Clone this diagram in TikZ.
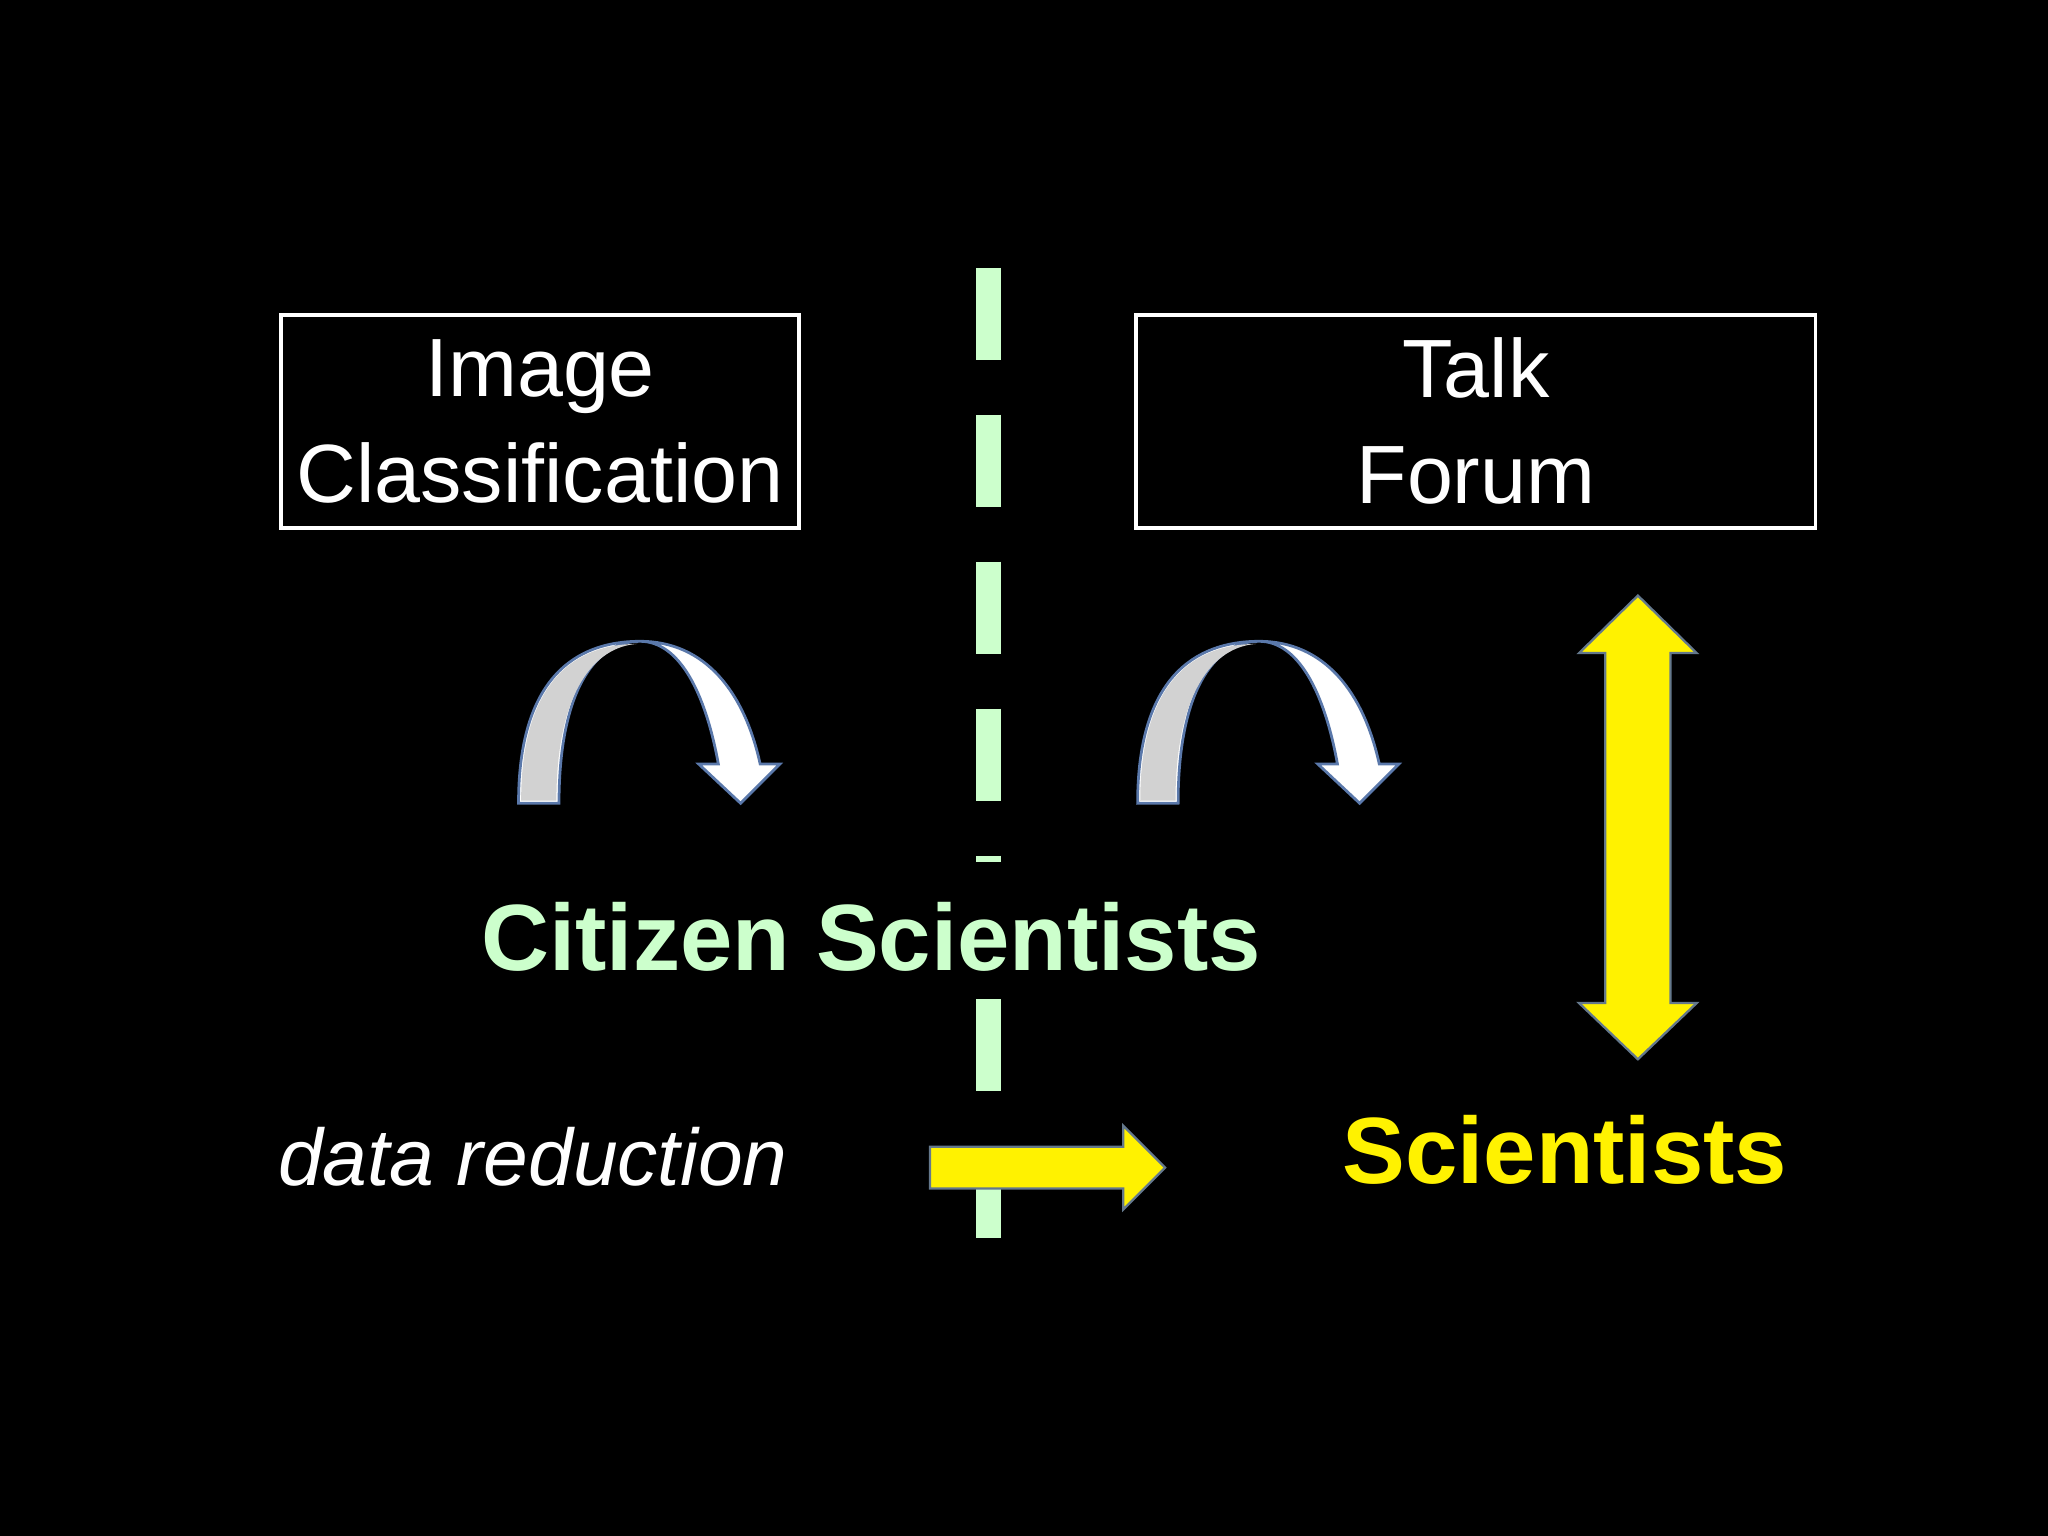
\documentclass[tikz,border=0pt]{standalone}
\usepackage{fontspec}
\setmainfont{Liberation Sans}
\begin{document}
\begin{tikzpicture}[x=0.01cm,y=-0.01cm,
  box/.style={draw=white,line width=0.8pt,text=white,align=center,font=\fontsize{18}{23}\selectfont},
  curv/.style={draw={rgb,255:red,90;green,120;blue,170},line width=0.6pt,fill=white},
  yarrow/.style={draw={rgb,255:red,100;green,120;blue,140},line width=0.5pt,fill=yellow}]
\definecolor{lg}{RGB}{204,255,204}
\fill[black] (0,0) rectangle (1568,1176);
\useasboundingbox (0,0) rectangle (1568,1176);
\node[box,minimum width=395*0.01cm,minimum height=163*0.01cm] (ic) at (413.5,322.5) {Image\\Classification};
\node[box,minimum width=520*0.01cm,minimum height=163*0.01cm] (tf) at (1130,322.5) {Talk\\Forum};
\coordinate (d1) at (757,205); \coordinate (d2) at (757,660);
\coordinate (d3) at (757,765); \coordinate (d4) at (757,990);
\draw[lg,line width=5.5pt,dash pattern=on 20pt off 12pt] (d1) -- (d2);
\draw[lg,line width=5.5pt,dash pattern=on 20pt off 12pt] (d3) -- (d4);
\node[text=lg,font=\bfseries\fontsize{20.5}{24}\selectfont] (cs) at (667,717) {Citizen Scientists};
\node[text=white,font=\itshape\fontsize{17.5}{21}\selectfont] (dr) at (408,886) {data reduction};
\node[text=yellow,font=\bfseries\fontsize{20.5}{24}\selectfont] (sc) at (1198,880) {Scientists};
\foreach \dx/\nm in {0/ca,474/cb}{
\begin{scope}[shift={(\dx*0.01cm,0)}]
\filldraw[curv] (397,615) .. controls (397,520) and (440,491) .. (490,491) .. controls (540,491) and (570,530) .. (582,585) -- (597,585) -- (567,615) -- (535,585) -- (550,585) .. controls (540,530) and (520,491) .. (490,491) .. controls (455,491) and (428,530) .. (428,615) -- cycle;
\fill[gray!35] (399,613) .. controls (399,522) and (440,493) .. (488,493) .. controls (455,495) and (426,530) .. (426,613) -- cycle;
\end{scope}}
\filldraw[yarrow] (712,878) -- (860,878) -- (860,862) -- (892,894) -- (860,926) -- (860,910) -- (712,910) -- cycle;
\filldraw[yarrow] (1254,456) -- (1299,500) -- (1279,500) -- (1279,768) -- (1299,768) -- (1254,811) -- (1209,768) -- (1229,768) -- (1229,500) -- (1209,500) -- cycle;
\end{tikzpicture}
\end{document}
